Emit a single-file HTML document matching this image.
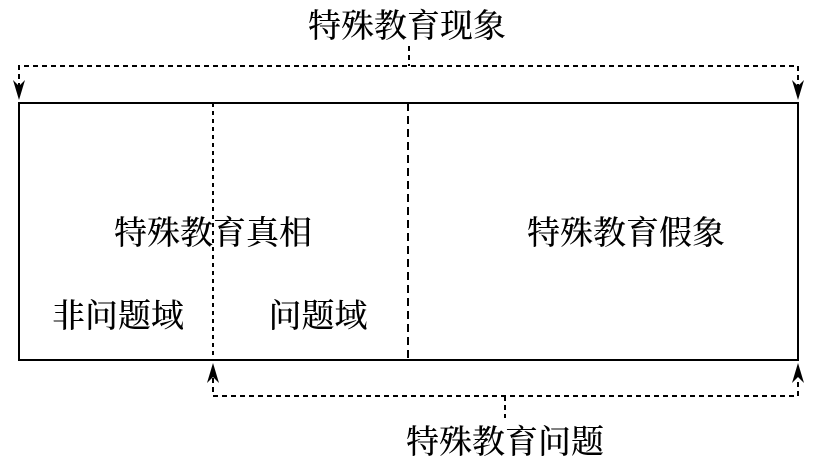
<!DOCTYPE html>
<html><head><meta charset="utf-8"><style>
html,body{margin:0;padding:0;background:#fff;width:825px;height:470px;overflow:hidden}
svg text{font-family:"Liberation Serif","Noto Serif CJK SC","Noto Sans CJK SC",serif;font-size:33px;fill:#000;text-anchor:middle;font-weight:500}
</style></head><body>
<svg width="825" height="470" xmlns="http://www.w3.org/2000/svg">
<rect x="19" y="103" width="779" height="257" fill="none" stroke="#000" stroke-width="2"/>
<line x1="213" y1="103" x2="213" y2="360" stroke="#000" stroke-width="2" stroke-dasharray="4,4"/>
<line x1="408" y1="103" x2="408" y2="360" stroke="#000" stroke-width="2" stroke-dasharray="8,5"/>
<g stroke="#000" stroke-width="2" stroke-dasharray="5,4" fill="none">
<polyline points="19,88 19,66 798,66 798,88"/>
<line x1="409" y1="46" x2="409" y2="66"/>
<polyline points="213,378 213,396 798,396 798,378"/>
<line x1="505" y1="396" x2="505" y2="418"/>
</g>
<path d="M13,80 L19,100 L25,80 L19,86 Z M792,80 L798,100 L804,80 L798,86 Z" fill="#000"/>
<path d="M207,383 L213,363 L219,383 L213,377 Z M792,383 L798,363 L804,383 L798,377 Z" fill="#000"/>
<text x="407" y="37">特殊教育现象</text>
<text x="213" y="244">特殊教育真相</text>
<text x="626" y="244">特殊教育假象</text>
<text x="118" y="327">非问题域</text>
<text x="318" y="327">问题域</text>
<text x="505" y="453">特殊教育问题</text>
</svg>
</body></html>
